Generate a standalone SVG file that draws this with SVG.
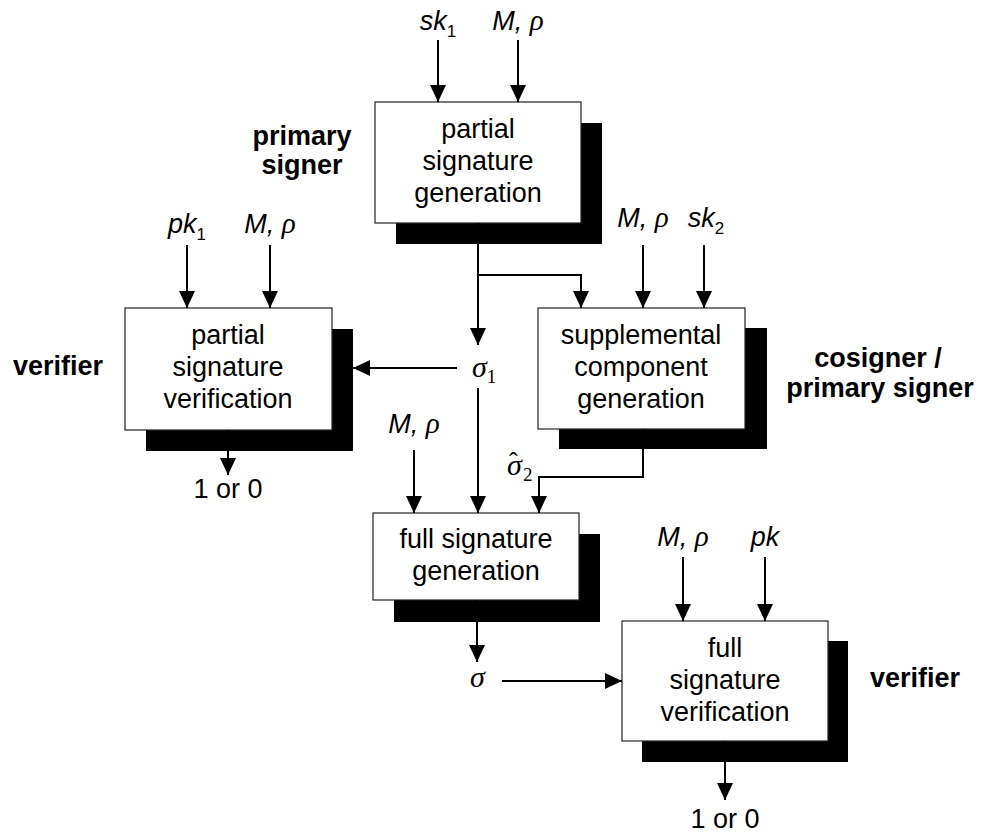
<svg xmlns="http://www.w3.org/2000/svg" width="984" height="837" viewBox="0 0 984 837">
  <style>
    .box { fill: #ffffff; stroke: #222222; stroke-width: 1.2; }
    .shadow { fill: #000000; }
    .node-text { font-family: "Liberation Sans", Arial, sans-serif; font-size: 27px; fill: #000; text-anchor: middle; }
    .role { font-family: "Liberation Sans", Arial, sans-serif; font-size: 27px; font-weight: bold; fill: #000; text-anchor: middle; }
    .var { font-family: "Liberation Sans", Arial, sans-serif; font-size: 27px; font-style: italic; fill: #000; text-anchor: middle; }
    .greek { font-family: "Liberation Serif", "Times New Roman", serif; font-style: italic; font-size: 29px; }
    .sub { font-style: normal; font-size: 17px; }
    .sym { font-family: "Liberation Serif", "Times New Roman", serif; font-size: 30px; font-style: italic; fill: #000; }
    .symsub { font-style: normal; font-size: 19px; }
    .hat { font-style: normal; font-size: 26px; }
    .plain { font-family: "Liberation Sans", Arial, sans-serif; font-size: 27px; fill: #000; text-anchor: middle; }
    .arrow { fill: none; stroke: #000; stroke-width: 2; marker-end: url(#head); }
  </style>
  <defs>
    <marker id="head" markerUnits="userSpaceOnUse" markerWidth="17" markerHeight="16" refX="17" refY="8" orient="auto">
      <path d="M0,0 L17,8 L0,16 z" fill="#000"/>
    </marker>
  </defs>

  <rect width="984" height="837" fill="#ffffff"/>

  <!-- role labels -->
  <g id="labels">
    <text class="role" x="302" y="145">primary</text>
    <text class="role" x="302" y="174">signer</text>
    <text class="role" x="58" y="375">verifier</text>
    <text class="role" x="878" y="367">cosigner /</text>
    <text class="role" x="880" y="397">primary signer</text>
    <text class="role" x="915" y="687">verifier</text>
  </g>

  <!-- inputs and intermediate values -->
  <g id="values">
    <text class="var" x="438" y="30">sk<tspan class="sub" dy="7">1</tspan></text>
    <text class="var" x="518" y="30">M, <tspan class="greek">ρ</tspan></text>
    <text class="var" x="187" y="233">pk<tspan class="sub" dy="7">1</tspan></text>
    <text class="var" x="270" y="233">M, <tspan class="greek">ρ</tspan></text>
    <text class="var" x="643" y="227">M, <tspan class="greek">ρ</tspan></text>
    <text class="var" x="706" y="227">sk<tspan class="sub" dy="7">2</tspan></text>
    <text class="var" x="414" y="433">M, <tspan class="greek">ρ</tspan></text>
    <text class="var" x="683" y="546">M, <tspan class="greek">ρ</tspan></text>
    <text class="var" x="765" y="546">pk</text>
    <text class="sym" x="472" y="377">σ<tspan class="symsub" dy="6">1</tspan></text>
    <!-- sigma-hat with subscript 2, accent placed over the sigma -->
    <text class="sym" x="507" y="475">σ<tspan class="hat" x="509" y="470">ˆ</tspan><tspan class="symsub" x="523" y="481">2</tspan></text>
    <text class="sym" x="470" y="687">σ</text>
    <text class="plain" x="228" y="498">1 or 0</text>
    <text class="plain" x="725" y="828">1 or 0</text>
  </g>

  <!-- partial signature generation -->
  <g id="partial-sig-gen">
    <rect class="shadow" x="396" y="123" width="206" height="121"/>
    <rect class="box" x="375" y="102" width="206" height="121"/>
    <text class="node-text" x="478" y="138">partial</text>
    <text class="node-text" x="478" y="170">signature</text>
    <text class="node-text" x="478" y="202">generation</text>
  </g>

  <!-- partial signature verification -->
  <g id="partial-sig-ver">
    <rect class="shadow" x="146" y="329" width="207" height="122"/>
    <rect class="box" x="125" y="308" width="207" height="122"/>
    <text class="node-text" x="228" y="344">partial</text>
    <text class="node-text" x="228" y="376">signature</text>
    <text class="node-text" x="228" y="408">verification</text>
  </g>

  <!-- supplemental component generation -->
  <g id="supp-comp-gen">
    <rect class="shadow" x="559" y="328" width="208" height="121"/>
    <rect class="box" x="538" y="308" width="207" height="121"/>
    <text class="node-text" x="641" y="344">supplemental</text>
    <text class="node-text" x="641" y="376">component</text>
    <text class="node-text" x="641" y="408">generation</text>
  </g>

  <!-- full signature generation -->
  <g id="full-sig-gen">
    <rect class="shadow" x="394" y="534" width="206" height="88"/>
    <rect class="box" x="373" y="513" width="206" height="87"/>
    <text class="node-text" x="476" y="548">full signature</text>
    <text class="node-text" x="476" y="580">generation</text>
  </g>

  <!-- full signature verification -->
  <g id="full-sig-ver">
    <rect class="shadow" x="642" y="641" width="206" height="121"/>
    <rect class="box" x="622" y="621" width="206" height="120"/>
    <text class="node-text" x="725" y="657">full</text>
    <text class="node-text" x="725" y="689">signature</text>
    <text class="node-text" x="725" y="721">verification</text>
  </g>

  <!-- connectors -->
  <g id="connectors">
    <line class="arrow" x1="438" y1="40" x2="438" y2="102"/>
    <line class="arrow" x1="518" y1="40" x2="518" y2="102"/>
    <line class="arrow" x1="478" y1="223" x2="478" y2="345"/>
    <polyline class="arrow" points="478,275 581,275 581,308"/>
    <line class="arrow" x1="457" y1="368" x2="353" y2="368"/>
    <line class="arrow" x1="478" y1="388" x2="478" y2="513"/>
    <line class="arrow" x1="187" y1="245" x2="187" y2="308"/>
    <line class="arrow" x1="270" y1="245" x2="270" y2="308"/>
    <line class="arrow" x1="643" y1="245" x2="643" y2="308"/>
    <line class="arrow" x1="704" y1="245" x2="704" y2="308"/>
    <polyline class="arrow" points="643,429 643,477 539,477 539,513"/>
    <line class="arrow" x1="414" y1="450" x2="414" y2="513"/>
    <line class="arrow" x1="477" y1="600" x2="477" y2="662"/>
    <line class="arrow" x1="502" y1="681" x2="622" y2="681"/>
    <line class="arrow" x1="683" y1="557" x2="683" y2="621"/>
    <line class="arrow" x1="765" y1="557" x2="765" y2="621"/>
    <line class="arrow" x1="725" y1="741" x2="725" y2="800"/>
    <line class="arrow" x1="228" y1="430" x2="228" y2="475"/>
  </g>
</svg>
